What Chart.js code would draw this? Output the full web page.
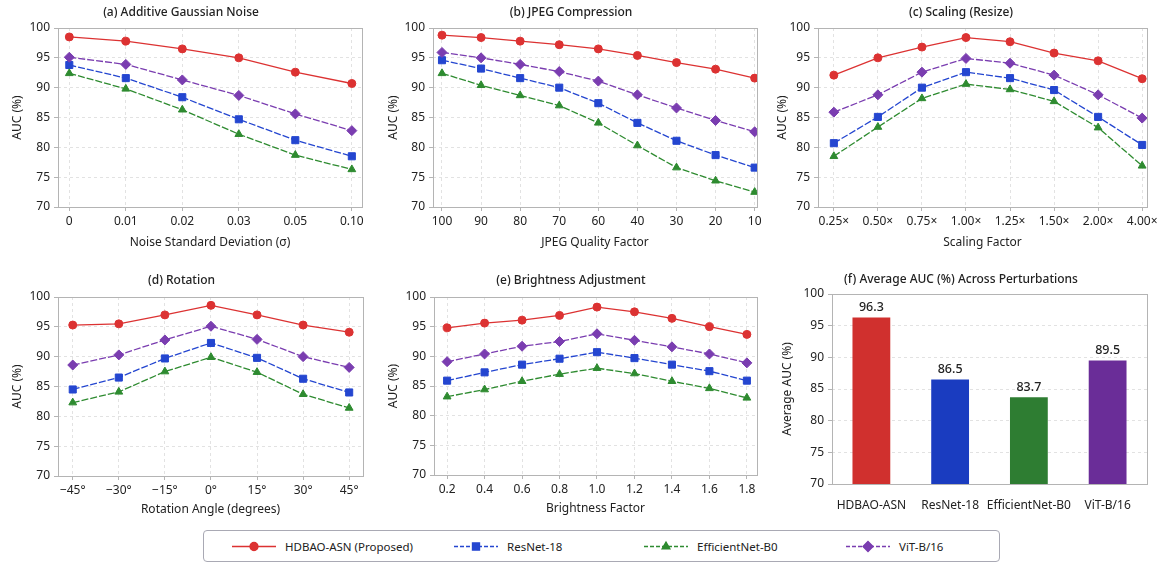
<!DOCTYPE html>
<html lang="en">
<head>
  <meta charset="UTF-8" />
  <title>Robustness AUC under perturbations</title>
  <script src="https://cdn.jsdelivr.net/npm/chart.js@4.4.1/dist/chart.umd.min.js"></script>
  <style>
    *{margin:0;padding:0;box-sizing:border-box}
    body{width:1164px;height:565px;background:#fff;font-family:"Noto Sans",Lato,sans-serif;position:relative;overflow:hidden}
    .panel{position:absolute}
    #pa{left:0;top:0;width:372px;height:250px}
    #pb{left:385px;top:0;width:382px;height:250px}
    #pc{left:775px;top:0;width:389px;height:250px}
    #pd{left:0;top:265px;width:373px;height:260px}
    #pe{left:385px;top:265px;width:382px;height:260px}
    #pf{left:775px;top:265px;width:389px;height:260px}
    .legend{position:absolute;left:203px;top:530px;width:797px;height:32px;border:1px solid #a9a9b4;border-radius:4px}
    .item{position:absolute;top:0;height:30px;display:flex;align-items:center;font-size:11.5px;color:#222}
    .item canvas{margin-right:9px}
  </style>
</head>
<body>
  <div class="panel" id="pa"><canvas id="cNoise"></canvas></div>
  <div class="panel" id="pb"><canvas id="cJpeg"></canvas></div>
  <div class="panel" id="pc"><canvas id="cScale"></canvas></div>
  <div class="panel" id="pd"><canvas id="cRot"></canvas></div>
  <div class="panel" id="pe"><canvas id="cBright"></canvas></div>
  <div class="panel" id="pf"><canvas id="cAvg"></canvas></div>
  <div class="legend" id="legend"></div>
  <script>
    // --- data ---
    const seriesNames = ['HDBAO-ASN (Proposed)','ResNet-18','EfficientNet-B0','ViT-B/16'];
    const barLabels = ['HDBAO-ASN','ResNet-18','EfficientNet-B0','ViT-B/16'];
    const yTicks = [70,75,80,85,90,95,100];

    const noiseLabels = ['0','0.01','0.02','0.03','0.05','0.10'];
    const noiseHdbao = [98.5,97.8,96.5,95.0,92.6,90.7];
    const noiseResnet = [93.8,91.6,88.4,84.7,81.2,78.5];
    const noiseEffnet = [92.4,89.8,86.3,82.2,78.7,76.3];
    const noiseVit = [95.1,93.9,91.3,88.7,85.6,82.8];

    const jpegLabels = ['100','90','80','70','60','40','30','20','10'];
    const jpegHdbao = [98.8,98.4,97.8,97.2,96.5,95.4,94.2,93.1,91.6];
    const jpegResnet = [94.6,93.2,91.6,90.0,87.4,84.1,81.1,78.7,76.6];
    const jpegEffnet = [92.4,90.4,88.7,87.0,84.1,80.3,76.6,74.4,72.5];
    const jpegVit = [95.9,95.0,93.9,92.7,91.1,88.8,86.6,84.5,82.6];

    const scaleLabels = ['0.25×','0.50×','0.75×','1.00×','1.25×','1.50×','2.00×','4.00×'];
    const scaleHdbao = [92.1,95.0,96.8,98.4,97.7,95.8,94.5,91.5];
    const scaleResnet = [80.7,85.1,90.0,92.6,91.6,89.6,85.1,80.4];
    const scaleEffnet = [78.5,83.4,88.2,90.6,89.7,87.7,83.3,76.9];
    const scaleVit = [85.9,88.8,92.6,94.9,94.1,92.1,88.8,84.9];

    const rotLabels = ['−45°','−30°','−15°','0°','15°','30°','45°'];
    const rotHdbao = [95.3,95.5,97.0,98.6,97.0,95.3,94.1];
    const rotResnet = [84.5,86.5,89.7,92.3,89.8,86.3,84.0];
    const rotEffnet = [82.3,84.1,87.5,89.9,87.4,83.7,81.4];
    const rotVit = [88.6,90.3,92.8,95.1,92.9,90.0,88.2];

    const brightLabels = ['0.2','0.4','0.6','0.8','1.0','1.2','1.4','1.6','1.8'];
    const brightHdbao = [94.8,95.6,96.1,96.9,98.3,97.5,96.4,95.0,93.7];
    const brightResnet = [85.9,87.3,88.6,89.6,90.7,89.7,88.6,87.5,85.9];
    const brightEffnet = [83.2,84.4,85.8,87.0,88.0,87.1,85.8,84.6,83.0];
    const brightVit = [89.1,90.4,91.7,92.5,93.8,92.7,91.6,90.4,88.9];

    const avgAuc = [96.3,86.5,83.7,89.5];

    // --- styles ---
    const lineColors = ['#dc3232','#2446d0','#2e8b30','#7a3db0'];
    const barColors = ['#d0302e','#1a3cc0','#2e7d32','#6a2d98'];
    const markers = ['circle','rect','triangle','rectRot'];
    const radii = [4,5,4.5,5];
    const dashes = [[],[7,2],[7,2],[7,2]];
    const FONT = '"Noto Sans", Lato, sans-serif';
    const TXT = '#222';
    const FS = 12;

    const boxPlugin = {
      id: 'box',
      beforeDatasetsDraw(c) {
        const a = c.chartArea, ctx = c.ctx;
        ctx.save();
        ctx.strokeStyle = '#b4b4b4';
        ctx.lineWidth = 1;
        ctx.strokeRect(Math.round(a.left)+0.5, Math.round(a.top)+0.5, Math.round(a.right-a.left), Math.round(a.bottom-a.top));
        ctx.restore();
      }
    };

    function yScale(title, w, tp) {
      return {
        type: 'linear', min: 70, max: 100,
        afterBuildTicks: s => { s.ticks = yTicks.map(v => ({value: v})); },
        afterFit: s => { s.width = w; },
        grid: {color: '#e2e2e2', tickColor: '#b4b4b4', tickLength: 4, tickBorderDash: []},
        border: {display: false, dash: [3,3]},
        ticks: {color: TXT, font: {family: FONT, size: FS}, padding: 4},
        title: {display: true, text: title, color: TXT, font: {family: FONT, size: FS}, padding: {top: tp, bottom: 4}}
      };
    }

    function titleOpts(text, top, bottom) {
      return {display: true, text, color: TXT, font: {family: FONT, size: FS, weight: '500', lineHeight: 1.2}, padding: {top, bottom}};
    }

    function makeLine(id, title, xTitle, labels, series, opt) {
      const datasets = series.map((vals, k) => ({
        label: seriesNames[k],
        data: vals.map((v, i) => ({x: i, y: v})),
        borderColor: lineColors[k], backgroundColor: lineColors[k],
        borderWidth: 1.3, borderDash: dashes[k],
        pointStyle: markers[k], pointRadius: radii[k], pointBorderWidth: 1,
        pointBackgroundColor: lineColors[k], pointBorderColor: lineColors[k]
      })).reverse();
      new Chart(document.getElementById(id), {
        type: 'line',
        data: {datasets},
        options: {
          responsive: true, maintainAspectRatio: false, animation: false,
          layout: {padding: {right: opt.right, left: 0, top: 0, bottom: opt.bottom || 0}},
          plugins: {legend: {display: false}, tooltip: {enabled: false}, title: titleOpts(title, opt.tTop, opt.tBottom)},
          scales: {
            x: {
              type: 'linear', min: -opt.padL, max: labels.length - 1 + opt.padR,
              afterBuildTicks: s => { s.ticks = labels.map((_, i) => ({value: i})); },
              afterFit: s => { s.height = opt.xh; },
              grid: {color: '#e2e2e2', tickColor: '#b4b4b4', tickLength: 4, tickBorderDash: []},
              border: {display: false, dash: [3,3]},
              ticks: {color: TXT, font: {family: FONT, size: FS}, padding: 3, maxRotation: 0, autoSkip: false,
                      callback: v => labels[v]},
              title: {display: true, text: xTitle, color: TXT, font: {family: FONT, size: FS}, padding: {top: 4, bottom: 0}}
            },
            y: yScale('AUC (%)', opt.yw, opt.ytp)
          }
        },
        plugins: [boxPlugin]
      });
    }

    makeLine('cNoise', '(a) Additive Gaussian Noise', 'Noise Standard Deviation (σ)', noiseLabels,
      [noiseHdbao, noiseResnet, noiseEffnet, noiseVit], {yw: 58, ytp: 10, right: 10, xh: 43, tTop: 5, tBottom: 8.6, padL: 0.2, padR: 0.18});
    makeLine('cJpeg', '(b) JPEG Compression', 'JPEG Quality Factor', jpegLabels,
      [jpegHdbao, jpegResnet, jpegEffnet, jpegVit], {yw: 48, ytp: 1, right: 10, xh: 43, tTop: 5, tBottom: 8.6, padL: 0.23, padR: 0.06});
    makeLine('cScale', '(c) Scaling (Resize)', 'Scaling Factor', scaleLabels,
      [scaleHdbao, scaleResnet, scaleEffnet, scaleVit], {yw: 43, ytp: 0, right: 17, xh: 43, tTop: 5, tBottom: 8.6, padL: 0.36, padR: 0.11});
    makeLine('cRot', '(d) Rotation', 'Rotation Angle (degrees)', rotLabels,
      [rotHdbao, rotResnet, rotEffnet, rotVit], {yw: 58, ytp: 10, right: 10, xh: 41, bottom: 8, tTop: 8, tBottom: 9.6, padL: 0.32, padR: 0.3});
    makeLine('cBright', '(e) Brightness Adjustment', 'Brightness Factor', brightLabels,
      [brightHdbao, brightResnet, brightEffnet, brightVit], {yw: 49, ytp: 1, right: 10, xh: 41, bottom: 9, tTop: 8, tBottom: 9.6, padL: 0.35, padR: 0.27});

    // bar value labels
    const barValuePlugin = {
      id: 'barValues',
      afterDatasetsDraw(c) {
        const ctx = c.ctx;
        const meta = c.getDatasetMeta(0);
        ctx.save();
        ctx.fillStyle = TXT;
        ctx.font = '500 12.5px ' + FONT;
        ctx.textAlign = 'center';
        ctx.textBaseline = 'bottom';
        meta.data.forEach((el, i) => {
          ctx.fillText(c.data.datasets[0].data[i].toFixed(1), el.x, el.y - 4);
        });
        ctx.restore();
      }
    };

    new Chart(document.getElementById('cAvg'), {
      type: 'bar',
      data: {labels: barLabels, datasets: [{data: avgAuc, backgroundColor: barColors, borderColor: barColors, borderWidth: 0,
        barPercentage: 0.48, categoryPercentage: 1}]},
      options: {
        responsive: true, maintainAspectRatio: false, animation: false,
        layout: {padding: {right: 17, left: 0, top: 0, bottom: 0}},
        plugins: {legend: {display: false}, tooltip: {enabled: false},
          title: titleOpts('(f) Average AUC (%) Across Perturbations', 7, 7.6)},
        scales: {
          x: {
            afterFit: s => { s.height = 41; },
            grid: {display: false},
            border: {display: false},
            ticks: {color: TXT, font: {family: FONT, size: FS}, padding: 6, maxRotation: 0, autoSkip: false}
          },
          y: yScale('Average AUC (%)', 57, 5)
        }
      },
      plugins: [boxPlugin, barValuePlugin]
    });

    // --- legend ---
    const legend = document.getElementById('legend');
    const itemLeft = [28, 250, 440, 642];
    seriesNames.forEach((name, k) => {
      const div = document.createElement('div');
      div.className = 'item';
      div.style.left = itemLeft[k] + 'px';
      const cv = document.createElement('canvas');
      cv.width = 44; cv.height = 14;
      const ctx = cv.getContext('2d');
      ctx.strokeStyle = lineColors[k];
      ctx.lineWidth = 1.3;
      ctx.setLineDash(k ? [4,2] : []);
      ctx.beginPath(); ctx.moveTo(0, 7.5); ctx.lineTo(44, 7.5); ctx.stroke();
      ctx.setLineDash([]);
      ctx.fillStyle = lineColors[k];
      Chart.helpers.drawPoint(ctx, {pointStyle: markers[k], radius: radii[k], rotation: 0, borderWidth: 1}, 22, 7.5);
      ctx.fill();
      div.appendChild(cv);
      const span = document.createElement('span');
      span.textContent = name;
      div.appendChild(span);
      legend.appendChild(div);
    });
  </script>
</body>
</html>
